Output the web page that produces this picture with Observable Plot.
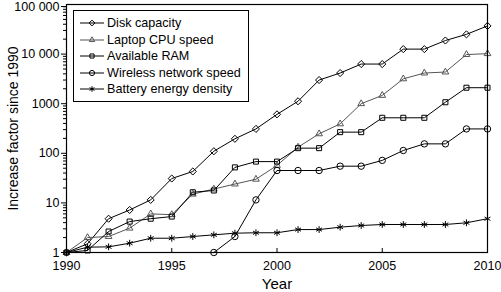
<!DOCTYPE html>
<html><head><meta charset="utf-8">
<script src="https://cdn.jsdelivr.net/npm/d3@7"></script>
<script src="https://cdn.jsdelivr.net/npm/@observablehq/plot@0.6"></script>
<style>
body{margin:0;background:#fff;}
#wrap{position:relative;width:501px;height:292px;font-family:"Liberation Sans",Arial,Helvetica,sans-serif;}
#legend{position:absolute;left:73px;top:10px;width:174px;height:90px;border:1px solid #000;background:#fff;box-sizing:content-box;}
.row{position:absolute;left:0;height:16px;display:flex;align-items:center;font-size:12.6px;color:#000;white-space:nowrap;}
.row svg{margin-left:6px;margin-right:3px;}
</style></head><body><div id="wrap"></div>
<script>
const years = [1990,1991,1992,1993,1994,1995,1996,1997,1998,1999,2000,2001,2002,2003,2004,2005,2006,2007,2008,2009,2010];
const seriesNames = ["Disk capacity","Laptop CPU speed","Available RAM","Wireless network speed","Battery energy density"];
const diskCapacity = [1,1.5,4.8,7.2,11.5,31,43,110,196,310,610,1120,3000,4150,6300,6300,12600,12600,18800,25000,37000];
const laptopCpu = [1,2.0,2.1,3.1,6.0,5.8,15,19,24,30,57,133,247,392,1000,1470,3170,4150,4350,9800,10200];
const availableRam = [1,1.1,2.65,4.2,4.8,5.3,16.4,17.8,52,68,68,127,127,267,267,520,520,520,1070,2100,2100];
const wirelessYears = [1997,1998,1999,2000,2001,2002,2003,2004,2005,2006,2007,2008,2009,2010];
const wirelessSpeed = [1,2.1,11.5,45,45,45,55,55,72,114,155,155,310,310];
const batteryDensity = [1,1.28,1.3,1.54,1.94,1.94,2.1,2.27,2.45,2.5,2.5,2.9,2.9,3.24,3.5,3.67,3.67,3.67,3.67,3.97,4.8];
const xTicks = [1990,1995,2000,2005,2010];
const yTicks = [1,10,100,1000,10000];
const yTopTick = [100000];
const yTickLabels = ["1","10","100","1000","10 000","100 000"];
const symbols = ["diamond2","triangle2","square2","circle","asterisk"];
const strokes = ["#000","#555","#000","#000","#000"];

const rows = [];
const add = (name, xs, vs) => xs.forEach((x, i) => rows.push({series: name, year: x, value: vs[i]}));
add(seriesNames[0], years, diskCapacity);
add(seriesNames[1], years, laptopCpu);
add(seriesNames[2], years, availableRam);
add(seriesNames[3], wirelessYears, wirelessSpeed);
add(seriesNames[4], years, batteryDensity);

const yMinor = [];
for (let k = 0; k < 5; k++) for (let m = 2; m <= 9; m++) yMinor.push(m * Math.pow(10, k));
const labelOf = new Map(yTicks.concat(yTopTick).map((t, i) => [t, yTickLabels[i]]));
const strokeOf = new Map(seriesNames.map((s, i) => [s, strokes[i]]));

const chart = Plot.plot({
  width: 501, height: 292,
  marginLeft: 66, marginRight: 14, marginTop: 4, marginBottom: 40,
  style: {fontFamily: "Liberation Sans, Arial, Helvetica, sans-serif", background: "#fff", color: "#000"},
  x: {domain: [1990, 2010]},
  y: {type: "log", domain: [1, 100000]},
  symbol: {domain: seriesNames, range: symbols},
  marks: [
    Plot.axisY({ticks: yTicks, tickFormat: d => labelOf.get(d), tickSize: 5, tickPadding: 2, fontSize: 12.5, label: null}),
    Plot.axisY({ticks: yTopTick, tickFormat: d => labelOf.get(d), tickSize: 5, tickPadding: 2, fontSize: 12.5, dy: 2, label: null}),
    Plot.axisY({ticks: yMinor, tickSize: 3, tickFormat: () => "", label: null}),
    Plot.axisY({ticks: [], label: "Increase factor since 1990", labelAnchor: "center", labelOffset: 58, labelArrow: "none", fontSize: 14}),
    Plot.axisX({ticks: xTicks, tickSize: 0, tickPadding: 9, tickFormat: d => String(d), fontSize: 12.5, label: null}),
    Plot.axisX({ticks: xTicks, tickSize: 4, dy: -4, tickFormat: () => "", label: null}),
    Plot.axisX({ticks: [], label: "Year", labelAnchor: "center", labelOffset: 36, labelArrow: "none", fontSize: 15}),
    Plot.line(rows, {x: "year", y: "value", z: "series", stroke: d => strokeOf.get(d.series), strokeWidth: 1}),
    Plot.dot(rows, {x: "year", y: "value", symbol: "series", stroke: d => strokeOf.get(d.series), fill: "none", r: 3.2, strokeWidth: 1}),
    Plot.frame({stroke: "#000", strokeWidth: 1.2})
  ]
});
const wrap = document.getElementById("wrap");
wrap.appendChild(chart);

const legend = document.createElement("div");
legend.id = "legend";
const symFns = {diamond2: d3.symbolDiamond2, triangle2: d3.symbolTriangle2, square2: d3.symbolSquare2, circle: d3.symbolCircle, asterisk: d3.symbolAsterisk};
seriesNames.forEach((name, i) => {
  const row = document.createElement("div");
  row.className = "row";
  row.style.top = (4 + i * 16.6) + "px";
  const path = d3.symbol(symFns[symbols[i]], Math.PI * 2.6 * 2.6)();
  row.innerHTML = `<svg width="24" height="12" viewBox="0 0 24 12"><line x1="0" y1="6" x2="24" y2="6" stroke="${strokes[i]}" stroke-width="1"/><path transform="translate(12,6)" d="${path}" fill="none" stroke="${strokes[i]}" stroke-width="1"/></svg><span>${name}</span>`;
  legend.appendChild(row);
});
wrap.appendChild(legend);
</script></body></html>
